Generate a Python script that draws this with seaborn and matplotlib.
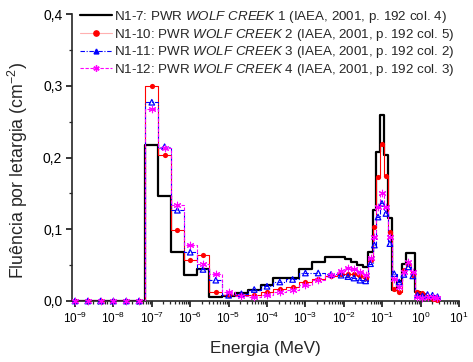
import numpy as np
import pandas as pd
import matplotlib
matplotlib.use("Agg")
import matplotlib.pyplot as plt
import seaborn as sns
from matplotlib.lines import Line2D
from matplotlib.ticker import FixedLocator, FuncFormatter, MultipleLocator, NullFormatter, LogFormatterSciNotation

# ---------------- data ----------------
# energy group boundaries (MeV)
edges = [6.81e-10, 1.468e-9, 3.162e-9, 6.81e-9, 1.468e-8, 3.162e-8, 6.81e-8, 1.468e-7,
         3.162e-7, 6.81e-7, 1.468e-6, 3.162e-6, 6.81e-6, 1.468e-5, 3.162e-5, 6.81e-5,
         1.468e-4, 3.162e-4, 6.81e-4, 1.468e-3, 3.162e-3, 6.81e-3,
         1.07e-2, 1.54e-2, 2.21e-2, 3.16e-2, 4.35e-2, 5.66e-2, 6.9e-2, 8.77e-2, 0.111,
         0.142, 0.177, 0.239, 0.322, 0.417, 0.552, 0.714, 0.964, 1.30, 1.76, 2.37, 3.2]

n1_7 = [0, 0, 0, 0, 0, 0, 0.217, 0.146, 0.068, 0.036, 0.045, 0.006, 0.007, 0.011, 0.016,
        0.022, 0.032, 0.032, 0.045, 0.055, 0.061,
        0.061, 0.0586, 0.054, 0.050, 0.0475, 0.068, 0.127, 0.208, 0.259, 0.203, 0.115,
        0.015, 0.028, 0.052, 0.067, 0.067, 0.0126, 0.008, 0.004, 0.003, 0.002]
n1_10 = [0, 0, 0, 0, 0, 0, 0.299, 0.204, 0.0996, 0.057, 0.064, 0.0126, 0.008, 0.009, 0.009,
         0.0126, 0.0173, 0.019, 0.0265, 0.030, 0.0345,
         0.037, 0.038, 0.037, 0.035, 0.032, 0.057, 0.103, 0.173, 0.2185, 0.174, 0.096,
         0.017, 0.013, 0.043, 0.052, 0.036, 0.0126, 0.011, 0.006, 0.003, 0.002]
n1_11 = [0, 0, 0, 0, 0, 0, 0.277, 0.215, 0.1265, 0.068, 0.044, 0.029, 0.008, 0.010, 0.016,
         0.0205, 0.0265, 0.030, 0.039, 0.039, 0.037,
         0.036, 0.034, 0.032, 0.029, 0.028, 0.052, 0.078, 0.117, 0.136, 0.122, 0.080,
         0.038, 0.0265, 0.037, 0.0475, 0.035, 0.008, 0.007, 0.009, 0.008, 0.006]
n1_12 = [0, 0, 0, 0, 0, 0, 0.267, 0.213, 0.1335, 0.0787, 0.052, 0.038, 0.013, 0.007, 0.006,
         0.008, 0.012, 0.016, 0.022, 0.029, 0.036,
         0.042, 0.046, 0.044, 0.040, 0.036, 0.060, 0.089, 0.131, 0.151, 0.131, 0.089,
         0.030, 0.020, 0.040, 0.054, 0.040, 0.005, 0.004, 0.006, 0.005, 0.004]

labels = [r"N1-7: PWR $\it{WOLF\ CREEK}$ 1 (IAEA, 2001, p. 192 col. 4)",
          r"N1-10: PWR $\it{WOLF\ CREEK}$ 2 (IAEA, 2001, p. 192 col. 5)",
          r"N1-11: PWR $\it{WOLF\ CREEK}$ 3 (IAEA, 2001, p. 192 col. 2)",
          r"N1-12: PWR $\it{WOLF\ CREEK}$ 4 (IAEA, 2001, p. 192 col. 3)"]

x_ticks = [1e-9, 1e-8, 1e-7, 1e-6, 1e-5, 1e-4, 1e-3, 1e-2, 1e-1, 1e0, 1e1]
y_ticks = [0.0, 0.1, 0.2, 0.3, 0.4]

# ---------------- style ----------------
sns.set_style("ticks")
plt.rcParams["font.family"] = ["Liberation Sans", "DejaVu Sans"]
plt.rcParams["mathtext.fontset"] = "custom"
plt.rcParams["mathtext.rm"] = "Liberation Sans"
plt.rcParams["mathtext.it"] = "Liberation Sans:italic"
plt.rcParams["mathtext.bf"] = "Liberation Sans:bold"

fig = plt.figure(figsize=(4.73, 3.62), dpi=100)
ax = fig.add_axes([72 / 473, 61 / 362, (459 - 72) / 473, (301 - 14) / 362])

e = np.array(edges)
centers = np.sqrt(e[:-1] * e[1:])

def steps(vals):
    xs = np.repeat(e, 2)[1:-1]
    ys = np.repeat(np.array(vals, dtype=float), 2)
    return pd.DataFrame({"x": xs, "y": ys})

blue_ls = (0, (4, 1.5, 1, 1.5))
mag_ls = (0, (3, 1.5))
styles = [
    dict(vals=n1_7, color="black", lw=1.6, ls="-", marker=None),
    dict(vals=n1_10, color="#ff0000", lw=0.8, ls="-", marker="o"),
    dict(vals=n1_11, color="#0000ff", lw=0.8, ls=blue_ls, marker="^"),
    dict(vals=n1_12, color="#ff00ff", lw=0.8, ls=mag_ls, marker=(6, 2, 0)),
]

for i, st in enumerate(styles):
    df = steps(st["vals"])
    sns.lineplot(data=df, x="x", y="y", ax=ax, color=st["color"], lw=st["lw"],
                 linestyle=st["ls"], estimator=None, sort=False, zorder=2 + i)
    if st["marker"] is not None:
        dm = pd.DataFrame({"x": centers, "y": st["vals"]})
        if st["marker"] == "^":
            sns.scatterplot(data=dm, x="x", y="y", ax=ax, marker="^", s=16,
                            facecolor="none", edgecolor=st["color"], linewidth=0.9,
                            zorder=6 + i, clip_on=False)
        elif st["marker"] == "o":
            sns.scatterplot(data=dm, x="x", y="y", ax=ax, marker="o", s=14,
                            color=st["color"], edgecolor=st["color"], linewidth=0,
                            zorder=6 + i, clip_on=False)
        else:
            sns.scatterplot(data=dm, x="x", y="y", ax=ax, marker=st["marker"], s=22,
                            color=st["color"], edgecolor=st["color"], linewidth=0.8,
                            zorder=6 + i, clip_on=False)

ax.set_xscale("log")
ax.set_xlim(8.35e-10, 10)
ax.set_ylim(0, 0.4)
minor_x = [m * t for t in x_ticks[:-1] for m in range(2, 10)]
ax.xaxis.set_major_locator(FixedLocator(x_ticks))
ax.xaxis.set_major_formatter(LogFormatterSciNotation())
ax.xaxis.set_minor_locator(FixedLocator(minor_x))
ax.xaxis.set_minor_formatter(NullFormatter())
ax.set_yticks(y_ticks)
ax.yaxis.set_minor_locator(MultipleLocator(0.05))
ax.yaxis.set_major_formatter(FuncFormatter(lambda v, p: f"{v:.1f}".replace(".", ",")))

for s in ["top", "right"]:
    ax.spines[s].set_visible(False)
for s in ["left", "bottom"]:
    ax.spines[s].set_linewidth(1.2)
ax.tick_params(which="major", direction="out", length=4, width=1.1,
               colors="black", pad=2)
ax.tick_params(axis="x", which="major", labelsize=8.5, pad=3)
ax.tick_params(axis="y", which="major", labelsize=10, pad=3)
ax.tick_params(which="minor", direction="out", length=2.5, width=0.9)

ax.set_xlabel("Energia (MeV)", fontsize=12.3, labelpad=11)
ax.set_ylabel("Fluência por letargia (cm$^{-2}$)", fontsize=12.8)
ax.yaxis.set_label_coords(-0.1085, 0.456)

handles = [
    Line2D([], [], color="black", lw=1.6),
    Line2D([], [], color="#ffb0b0", lw=0.8, marker="o", ms=3.8,
           markerfacecolor="#ff0000", markeredgecolor="#ff0000"),
    Line2D([], [], color="#0000ff", lw=0.8, ls=blue_ls, marker="^", ms=3.5),
    Line2D([], [], color="#ff00ff", lw=0.8, ls=mag_ls, marker=(6, 2, 0), ms=4.5),
]
leg = fig.legend(handles, labels, loc="upper left", bbox_to_anchor=(80 / 473, 1 - 9 / 362),
                 frameon=False, fontsize=9.6, handlelength=2.4, handletextpad=0.15,
                 labelspacing=0.12, borderpad=0, borderaxespad=0)

fig.savefig("out.png", dpi=100)
